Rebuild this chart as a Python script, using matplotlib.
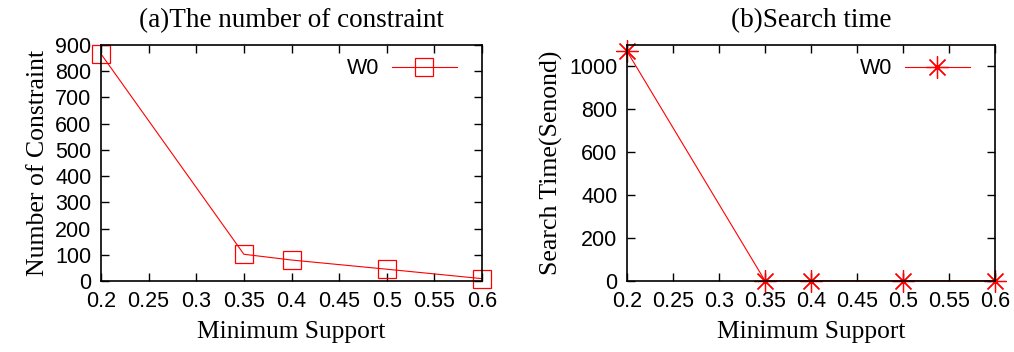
import matplotlib
matplotlib.use("Agg")
import matplotlib.pyplot as plt

support = [0.2, 0.35, 0.4, 0.5, 0.6]
constraints = [866, 102, 80, 45, 9]
search_time = [1071, 1, 1, 1, 1]
xticks = [0.2, 0.25, 0.3, 0.35, 0.4, 0.45, 0.5, 0.55, 0.6]
xticklabels = ["0.2", "0.25", "0.3", "0.35", "0.4", "0.45", "0.5", "0.55", "0.6"]

fig = plt.figure(figsize=(10.14, 3.52), dpi=100)
W, H = 1014, 352
ax1 = fig.add_axes([101/W, 1-281/H, (482-101)/W, (281-45)/H])
ax2 = fig.add_axes([627/W, 1-281/H, (995-627)/W, (281-45)/H])

sans = ["Liberation Sans", "DejaVu Sans"]
tickfont = dict(family=sans, size=15.5)
serif = ["Liberation Serif", "DejaVu Serif"]

for ax in (ax1, ax2):
    ax.set_xlim(0.2, 0.6)
    ax.set_xticks(xticks)
    ax.set_xticklabels(xticklabels, **tickfont)
    ax.tick_params(direction="in", top=True, right=True, length=6, width=1, pad=7)
    for s in ax.spines.values():
        s.set_linewidth(1.2)
    ax.set_xlabel("Minimum Support", family=serif, size=18.3, labelpad=7)

ax1.plot(support, constraints, color="#ff0000", lw=0.8, marker="s", ms=12.5,
         mfc="none", mec="#ff0000", mew=0.9, label="W0", clip_on=False)
ax1.set_ylim(0, 900)
ax1.set_yticks(range(0, 901, 100))
ax1.set_yticklabels([str(v) for v in range(0, 901, 100)], **tickfont)
ax1.set_ylabel("Number of Constraint", family=serif, size=18.5, labelpad=4)
ax1.set_title("(a)The number of constraint", family=serif, size=19.5, pad=13)

ax2.plot(support, search_time, color="#ff0000", lw=0.8, marker=(8, 2, 0), ms=16,
         mec="#ff0000", mew=0.9, label="W0", clip_on=False)
ax2.set_ylim(0, 1100)
ax2.set_yticks(range(0, 1001, 200))
ax2.set_yticklabels([str(v) for v in range(0, 1001, 200)], **tickfont)
ax2.set_ylabel("Search Time(Senond)", family=serif, size=18.5, labelpad=4)
ax2.set_title("(b)Search time", family=serif, size=19.5, pad=13)

ax1.legend(loc="upper right", frameon=False, markerfirst=False,
           handlelength=3.0, prop=dict(family=sans, size=15.5),
           borderaxespad=0.5, handletextpad=0.6,
           bbox_to_anchor=(1 - 6/381, 1 + 6/236))
ax2.legend(loc="upper right", frameon=False, markerfirst=False,
           handlelength=3.0, prop=dict(family=sans, size=15.5),
           borderaxespad=0.5, handletextpad=0.6,
           bbox_to_anchor=(1 - 6/368, 1 + 6/236))

fig.savefig("out.png", dpi=100)
